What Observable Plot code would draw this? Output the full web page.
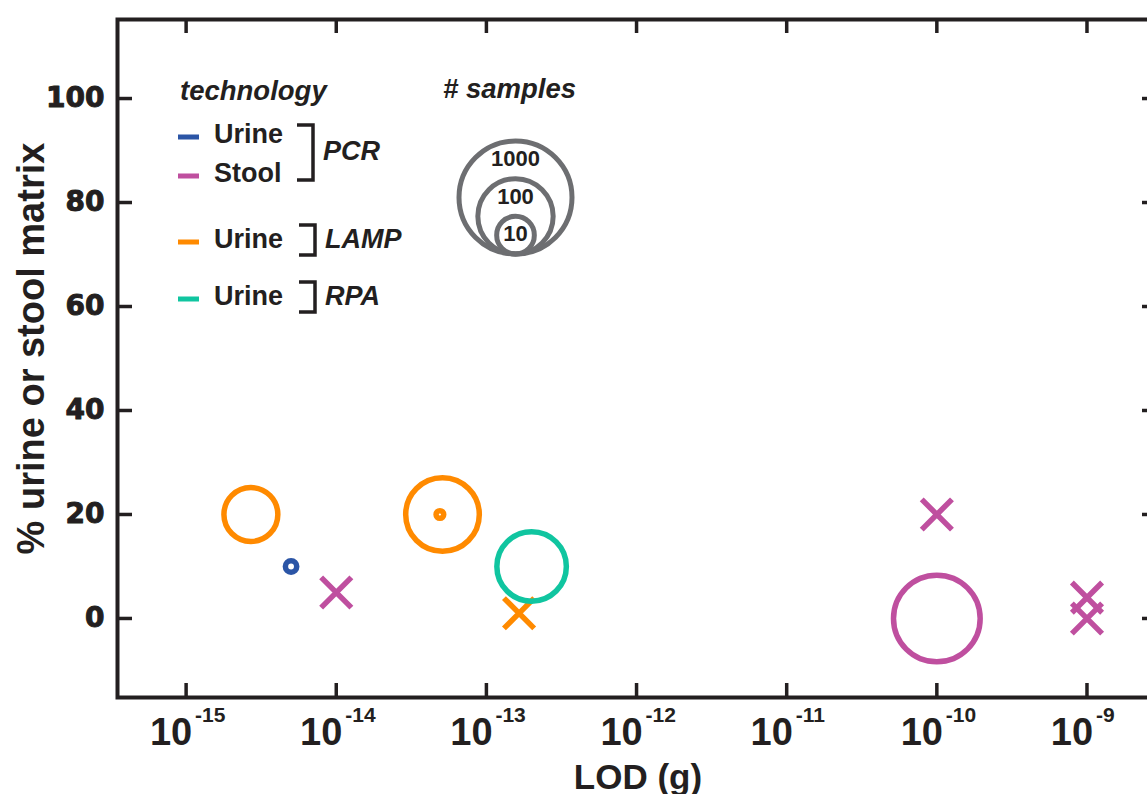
<!DOCTYPE html>
<html>
<head>
<meta charset="utf-8">
<script src="https://cdn.jsdelivr.net/npm/d3@7"></script>
<script src="https://cdn.jsdelivr.net/npm/@observablehq/plot@0.6"></script>
<style>
  html, body { margin: 0; padding: 0; background: #ffffff; }
  #wrap { position: relative; width: 1147px; height: 794px; overflow: hidden; }
  #wrap svg { max-width: none !important; }
</style>
</head>
<body>
<div id="wrap"></div>
<script>
// ---------------- data ----------------
const technology = ["LAMP", "PCR", "LAMP", "LAMP", "RPA", "PCR", "PCR", "LAMP", "PCR", "PCR", "PCR"];
const matrixType = ["Urine", "Urine", "Urine", "Urine", "Urine", "Stool", "Stool", "Urine", "Stool", "Stool", "Stool"];
const lodGrams   = [2.7e-15, 5e-15, 5.1e-14, 4.9e-14, 2e-13, 1e-10, 1e-14, 1.65e-13, 1e-10, 1e-9, 1e-9];
const pctMatrix  = [20, 10, 20, 20, 10, 0, 5, 1, 20, 4, 0];
const nSamples   = [27, 2, 90, 1.6, 70, 200, null, null, null, null, null];

const seriesKeys   = ["PCR Urine", "PCR Stool", "LAMP Urine", "RPA Urine"];
const seriesColors = ["#2b55a6", "#bf4f9f", "#ff8a00", "#10c5a0"];

const xTickExponents = [-15, -14, -13, -12, -11, -10, -9];
const yTicks = [0, 20, 40, 60, 80, 100];

const legendRows = [
  {key: "PCR Urine", label: "Urine"},
  {key: "PCR Stool", label: "Stool"},
  {key: "LAMP Urine", label: "Urine"},
  {key: "RPA Urine", label: "Urine"}
];
const legendGroups = ["PCR", "LAMP", "RPA"];
const sizeLegendValues = [1000, 100, 10];

// ---------------- layout ----------------
const W = 1160, H = 794;
const mL = 117, mR = 4, mT = 19, mB = 97;
const frameW = W - mL - mR, frameH = H - mT - mB;
const xDomain = [10 ** -15.457, 10 ** -8.537];
const yDomain = [-15.2, 115.2];
const ink = "#231f20";

const data = technology.map((t, i) => ({
  key: t + " " + matrixType[i],
  lod: lodGrams[i],
  pct: pctMatrix[i],
  samples: nSamples[i]
}));
const xTicks = xTickExponents.map(e => 10 ** e);

const plot = Plot.plot({
  width: W,
  height: H,
  marginLeft: mL, marginRight: mR, marginTop: mT, marginBottom: mB,
  style: {background: "transparent", fontFamily: "Liberation Sans, Arial, sans-serif", overflow: "visible", maxWidth: "none"},
  x: {type: "log", domain: xDomain, axis: null},
  y: {domain: yDomain, axis: null},
  r: {type: "log", domain: [1, 1000], range: [0, 56.5]},
  color: {type: "ordinal", domain: seriesKeys, range: seriesColors},
  marks: [
    // ticks (inward) on all four sides
    Plot.tickY(yTicks, {y: d => d, stroke: ink, strokeWidth: 3.5, insetRight: frameW - 15}),
    Plot.tickY(yTicks, {y: d => d, stroke: ink, strokeWidth: 3.5, insetLeft: frameW - 14}),
    Plot.tickX(xTicks, {x: d => d, stroke: ink, strokeWidth: 3.5, insetTop: frameH - 14}),
    Plot.tickX(xTicks, {x: d => d, stroke: ink, strokeWidth: 3.5, insetBottom: frameH - 14}),
    Plot.frame({stroke: ink, strokeWidth: 4}),
    // y tick labels
    Plot.text(yTicks, {
      y: d => d, frameAnchor: "left", text: d => String(d), textAnchor: "end", dx: -13,
      fontFamily: "DejaVu Sans", fontWeight: "bold", fontSize: 28, fill: ink,
      stroke: ink, strokeWidth: 1
    }),
    // x tick labels: 10 with superscript exponent
    Plot.text(xTicks, {
      x: d => d, frameAnchor: "bottom", text: () => "10", textAnchor: "middle", lineAnchor: "bottom",
      dx: -15, dy: 47, fontWeight: "bold", fontSize: 38, fill: ink
    }),
    Plot.text(xTickExponents, {
      x: d => 10 ** d, frameAnchor: "bottom", text: d => String(d), textAnchor: "start", lineAnchor: "bottom",
      dx: 9, dy: 24, fontWeight: "bold", fontSize: 21, fill: ink
    }),
    // axis titles
    Plot.text(["LOD (g)"], {
      frameAnchor: "bottom", text: d => d, textAnchor: "middle", lineAnchor: "bottom", dy: 91, dx: 1,
      fontWeight: "bold", fontSize: 35, fill: ink
    }),
    Plot.text(["% urine or stool matrix"], {
      frameAnchor: "left", text: d => d, rotate: -90, textAnchor: "middle", lineAnchor: "bottom", dx: -74, dy: -10,
      fontWeight: "bold", fontSize: 38, fill: ink
    }),
    // data: crosses (no sample count) then circles sized by sample count
    Plot.dot(data.filter(d => d.samples == null), {
      x: "lod", y: "pct", symbol: "times", r: 13.8, stroke: "key", strokeWidth: 5.5, strokeLinecap: "butt"
    }),
    Plot.dot(data.filter(d => d.samples != null), {
      x: "lod", y: "pct", r: "samples", stroke: "key", fill: "none", strokeWidth: 5.5
    })
  ]
});

document.getElementById("wrap").appendChild(plot);

// ---------------- legends (overlay drawn with d3) ----------------
const color = plot.scale("color");
const rScale = plot.scale("r");
const svg = d3.select(plot);
const lg = svg.append("g")
  .attr("font-family", "Liberation Sans, Arial, sans-serif")
  .attr("font-weight", "bold")
  .attr("text-anchor", "start")
  .attr("fill", ink);

lg.append("text").attr("x", 180).attr("y", 100).attr("font-size", 27.5).attr("font-style", "italic").text("technology");
lg.append("text").attr("x", 443).attr("y", 98).attr("font-size", 27.5).attr("font-style", "italic").text("# samples");

const rowBaselines = [143, 182, 248, 305];
legendRows.forEach((row, i) => {
  const base = rowBaselines[i];
  lg.append("rect").attr("x", 178).attr("y", base - 8.5).attr("width", 21).attr("height", 5)
    .attr("fill", color.apply(row.key));
  lg.append("text").attr("x", 214).attr("y", base).attr("font-size", 27).text(row.label);
});

const brackets = [
  {top: 125, bottom: 180, x: 313, text: legendGroups[0], textBase: 160},
  {top: 225, bottom: 255, x: 315, text: legendGroups[1], textBase: 248},
  {top: 282, bottom: 312, x: 315, text: legendGroups[2], textBase: 305}
];
brackets.forEach(b => {
  lg.append("path")
    .attr("d", `M${b.x - 16},${b.top}H${b.x}V${b.bottom}H${b.x - 16}`)
    .attr("fill", "none").attr("stroke", ink).attr("stroke-width", 3.5);
  lg.append("text").attr("x", b.x + 10).attr("y", b.textBase).attr("font-size", 27)
    .attr("font-style", "italic").text(b.text);
});

const sizeCx = 515.5, sizeBottom = 254;
sizeLegendValues.forEach(v => {
  const r = rScale.apply(v);
  lg.append("circle").attr("cx", sizeCx).attr("cy", sizeBottom - r).attr("r", r)
    .attr("fill", "none").attr("stroke", "#6d6e71").attr("stroke-width", 5);
  lg.append("text").attr("x", sizeCx).attr("y", sizeBottom - 2 * r + 25)
    .attr("text-anchor", "middle").attr("font-size", 22).text(String(v));
});
</script>
</body>
</html>
